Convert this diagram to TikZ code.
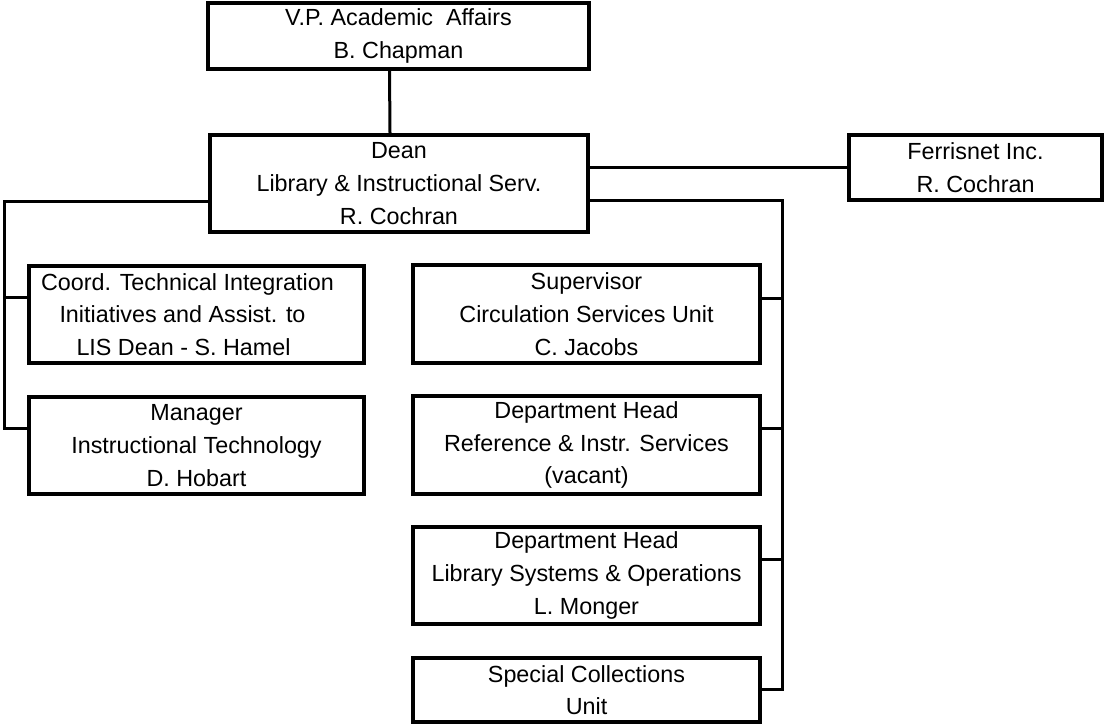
\documentclass[tikz,border=0pt]{standalone}
\usepackage{fontspec}
\setmainfont{Liberation Sans}
\begin{document}
\begin{tikzpicture}[x=0.75pt,y=-0.75pt,
    font=\fontsize{17.5}{24.5}\selectfont,
    unit/.style={draw,line width=2.6pt,align=center,inner sep=0pt},
    link/.style={line width=2.25pt}]
      \useasboundingbox (0,0) rectangle (1105,724);
      \draw
        (398.5,36) node[unit,minimum width=381*0.75pt,minimum height=66*0.75pt] (vp){V.P. Academic\ \ Affairs\\B. Chapman}
        (399,183.5) node[unit,minimum width=378*0.75pt,minimum height=97*0.75pt] (dean){Dean\\Library \& Instructional Serv.\\R. Cochran}
        (975.5,167.5) node[unit,minimum width=253*0.75pt,minimum height=65*0.75pt] (ferris){Ferrisnet Inc.\\R. Cochran}
        (196.5,314.5) node[unit,minimum width=335*0.75pt,minimum height=97*0.75pt] (coord){\hbox{Coord. Technical Integration\kern13.5pt}\\\hbox{Initiatives and Assist. to\kern21pt}\\\hbox{LIS Dean - S. Hamel\kern19.5pt}}
        (196.5,445.5) node[unit,minimum width=335*0.75pt,minimum height=97*0.75pt] (manager){Manager\\Instructional Technology\\D. Hobart}
        (586.5,314) node[unit,minimum width=347*0.75pt,minimum height=98*0.75pt] (super){Supervisor\\Circulation Services Unit\\C. Jacobs}
        (586.5,445) node[unit,minimum width=347*0.75pt,minimum height=98*0.75pt] (ref){Department Head\\Reference \& Instr. Services\\(vacant)}
        (586.5,575.5) node[unit,minimum width=347*0.75pt,minimum height=97*0.75pt] (libsys){Department Head\\Library Systems \& Operations\\L. Monger}
        (586.5,690) node[unit,minimum width=347*0.75pt,minimum height=64*0.75pt] (special){Special Collections\\Unit};
      \coordinate (ltop) at (4,201);
      \coordinate (lcoord) at (4,297);
      \coordinate (lbot) at (4,428);
      \coordinate (rtop) at (782,200);
      \coordinate (rsuper) at (782,298);
      \coordinate (rref) at (782,428);
      \coordinate (rlibsys) at (782,559);
      \coordinate (rbot) at (782,689);
      \begin{scope}[link]
        \draw ([xshift=-6.75pt]vp.south) to ([xshift=-6.75pt]dean.north);
        \draw (dean.east |- ferris.west) to (ferris.west);
        \draw (dean.west |- ltop) -- (ltop) -- (lbot) -- (manager.west |- lbot);
        \draw (lcoord) to (coord.west |- lcoord);
        \draw (dean.east |- rtop) -- (rtop) -- (rbot) -- (special.east |- rbot);
        \draw (rsuper) to (super.east |- rsuper);
        \draw (rref) to (ref.east |- rref);
        \draw (rlibsys) to (libsys.east |- rlibsys);
      \end{scope}
    \end{tikzpicture}
\end{document}
